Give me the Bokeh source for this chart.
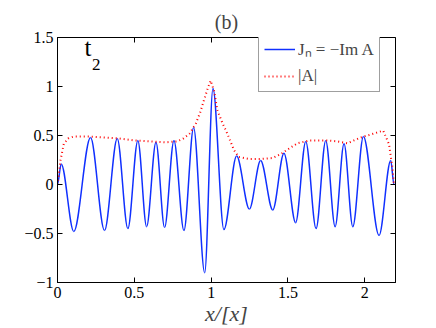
import numpy as np
from bokeh.plotting import figure
from bokeh.models import (Range1d, LinearAxis, FixedTicker, Legend, LegendItem,
                          Label, ColumnDataSource)
from bokeh.embed import file_html
from bokeh.resources import INLINE

# ---- data ----
# extrema (and end points) of J_n = -Im A
jn_x = [0.0, 0.024, 0.106, 0.215, 0.306, 0.389, 0.458, 0.523, 0.580, 0.641,
        0.697, 0.758, 0.823, 0.886, 0.958, 1.012, 1.083, 1.166, 1.249, 1.322,
        1.401, 1.474, 1.550, 1.616, 1.683, 1.746, 1.807, 1.865, 1.922, 1.991,
        2.093, 2.169, 2.19]
jn_y = [0.0, 0.21, -0.48, 0.48, -0.47, 0.47, -0.45, 0.45, -0.43, 0.43,
        -0.44, 0.45, -0.47, 0.58, -0.90, 0.98, -0.46, 0.29, -0.25, 0.245,
        -0.26, 0.32, -0.39, 0.44, -0.45, 0.45, -0.43, 0.415, -0.43, 0.49,
        -0.52, 0.245, 0.0]

# |A| envelope
abs_x = [0.0, 0.02, 0.041, 0.07, 0.106, 0.2, 0.3, 0.4, 0.5, 0.6, 0.7, 0.78,
         0.82, 0.86, 0.9, 0.93, 0.953, 0.98, 0.997, 1.02, 1.04, 1.07, 1.105,
         1.149, 1.18, 1.25, 1.322, 1.4, 1.453, 1.5, 1.561, 1.64, 1.75, 1.82,
         1.887, 1.93, 1.974, 2.06, 2.12, 2.158, 2.18, 2.19]
abs_y = [0.0, 0.25, 0.415, 0.47, 0.49, 0.49, 0.48, 0.47, 0.45, 0.44, 0.43,
         0.44, 0.47, 0.52, 0.62, 0.74, 0.86, 0.99, 1.06, 0.95, 0.76, 0.64,
         0.52, 0.35, 0.28, 0.26, 0.26, 0.27, 0.31, 0.36, 0.42, 0.45, 0.45,
         0.44, 0.42, 0.45, 0.48, 0.52, 0.55, 0.41, 0.17, 0.0]

x_ticks = [0, 0.5, 1, 1.5, 2]
x_tick_labels = ["0", "0.5", "1", "1.5", "2"]
y_ticks = [-1, -0.5, 0, 0.5, 1, 1.5]
y_tick_labels = ["\u22121", "\u22120.5", "0", "0.5", "1", "1.5"]

SERIF = "Liberation Serif"

p = figure(width=436, height=328, output_backend="svg", toolbar_location=None,
           x_range=Range1d(0, 2.2), y_range=Range1d(-1, 1.5),
           min_border_left=57, min_border_right=41, min_border_top=37,
           min_border_bottom=46)
p.background_fill_color = "white"
p.border_fill_color = "white"
p.xgrid.visible = False
p.ygrid.visible = False
p.outline_line_color = "black"
p.outline_line_width = 1
p.outline_line_alpha = 1

p.title.text = "(b)"
p.title.align = "center"
p.title.text_font = SERIF
p.title.text_font_style = "normal"
p.title.text_font_size = "20px"
p.title.standoff = 10

def style_axis(ax, ticks, labels, show_labels=True):
    ax.ticker = FixedTicker(ticks=ticks)
    ax.major_tick_in = 5
    ax.major_tick_out = 0
    ax.minor_tick_line_color = None
    ax.axis_line_color = "black"
    ax.major_tick_line_color = "black"
    if show_labels:
        ax.major_label_overrides = {t: l for t, l in zip(ticks, labels)}
        ax.major_label_text_font = SERIF
        ax.major_label_text_font_size = "16px"
        ax.major_label_text_color = "black"
        ax.major_label_standoff = 4
    else:
        ax.major_label_text_color = None
        ax.major_label_text_font_size = "0px"
        ax.major_label_standoff = 0

style_axis(p.xaxis[0], x_ticks, x_tick_labels)
style_axis(p.yaxis[0], y_ticks, y_tick_labels)
p.xaxis.axis_label = "x/[x]"
p.xaxis.axis_label_text_font = SERIF
p.xaxis.axis_label_text_font_style = "italic"
p.xaxis.axis_label_text_font_size = "22px"
p.xaxis.axis_label_standoff = 0

top_ax = LinearAxis()
style_axis(top_ax, x_ticks, x_tick_labels, show_labels=False)
top_ax.axis_line_color = None
p.add_layout(top_ax, "above")
right_ax = LinearAxis()
style_axis(right_ax, y_ticks, y_tick_labels, show_labels=False)
right_ax.axis_line_color = None
p.add_layout(right_ax, "right")

# blue curve through the read extrema, drawn as smooth cubic segments
jx = np.array(jn_x)
jy = np.array(jn_y)
dx = (jx[1:] - jx[:-1]) / 3.0
src = ColumnDataSource(dict(x0=jx[:-1], y0=jy[:-1], x1=jx[1:], y1=jy[1:],
                            cx0=jx[:-1] + dx, cy0=jy[:-1],
                            cx1=jx[1:] - dx, cy1=jy[1:]))
blue = p.bezier(x0="x0", y0="y0", x1="x1", y1="y1", cx0="cx0", cy0="cy0",
                cx1="cx1", cy1="cy1", source=src, line_color="#1030ff",
                line_width=1.5)

red = p.line(abs_x, abs_y, line_color="#ff0000", line_width=2, line_dash="1 3")

legend = Legend(items=[LegendItem(label="J\u2099 = \u2212Im A", renderers=[blue]),
                       LegendItem(label="|A|", renderers=[red])],
                location=(201, 190), margin=0, padding=5, spacing=6,
                glyph_width=31, glyph_height=20, label_height=20,
                label_standoff=3, label_text_font=SERIF,
                label_text_font_size="17px", border_line_color="#404040",
                border_line_width=1.5, background_fill_color="white",
                background_fill_alpha=1)
p.add_layout(legend)

p.add_layout(Label(x=0.176, y=1.265, text="t", text_font=SERIF,
                   text_font_size="25px", text_color="black"))
p.add_layout(Label(x=0.224, y=1.17, text="2", text_font=SERIF,
                   text_font_size="17px", text_color="black"))

open("out.html", "w").write(file_html(p, INLINE))
